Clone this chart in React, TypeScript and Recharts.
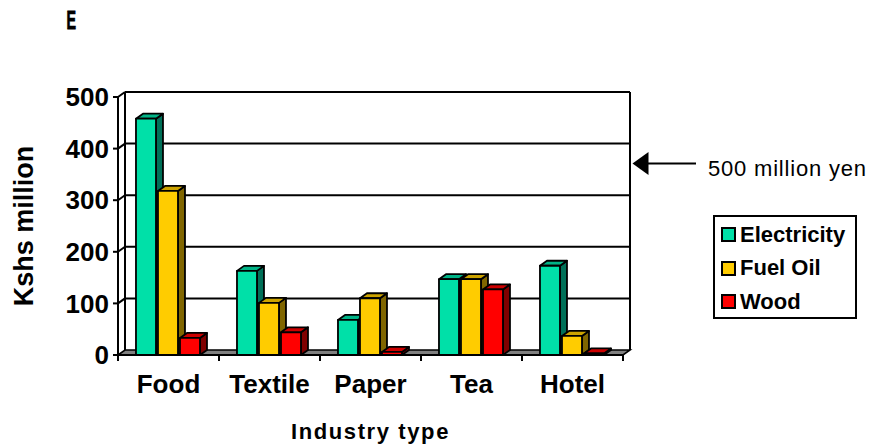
import React from "react";
import { BarChart, Bar, XAxis, YAxis, CartesianGrid, Legend, Customized } from "recharts";

// data (Kshs million)
const categories = ["Food", "Textile", "Paper", "Tea", "Hotel"];
const electricity = [458, 163, 68, 147, 173];
const fuelOil = [318, 101, 110, 147, 37];
const wood = [33, 44, 6, 127, 3];
const yTicks = [0, 100, 200, 300, 400, 500];

const seriesKeys = ["electricity", "fuelOil", "wood"];
const seriesNames = ["Electricity", "Fuel Oil", "Wood"];
const frontColors = ["#00E0A8", "#FFCC00", "#FF0000"];
const topColors = ["#00B386", "#CCA300", "#CC0000"];
const sideColors = ["#007058", "#806600", "#800000"];

const data = categories.map((name, i) => ({
  name,
  electricity: electricity[i],
  fuelOil: fuelOil[i],
  wood: wood[i],
}));

const W = 869;
const H = 445;
const MARGIN = { top: 97, right: 246, bottom: 0, left: 10 };
const Y_AXIS_W = 108;
const X_AXIS_H = 90;
// depth of the fake 3D box
const DX = 7;
const DY = 5;
const BAND_HALF = (W - MARGIN.left - Y_AXIS_W - MARGIN.right) / categories.length / 2;
const FONT = "'Liberation Sans', Arial, sans-serif";

function makeBox(front: string, top: string, side: string) {
  return (p: any) => {
    const { x, y, width, height } = p;
    if (x == null || width == null) return <g />;
    const x2 = x + width;
    const y2 = y + height;
    return (
      <g stroke="#000" strokeWidth={1.8} strokeLinejoin="round">
        <polygon points={`${x2},${y} ${x2 + DX},${y - DY} ${x2 + DX},${y2 - DY} ${x2},${y2}`} fill={side} />
        <polygon points={`${x},${y} ${x + DX},${y - DY} ${x2 + DX},${y - DY} ${x2},${y}`} fill={top} />
        <rect x={x} y={y} width={width} height={height} fill={front} />
      </g>
    );
  };
}

// back wall, left wall diagonals and floor drawn from the grid lines
function wallLine(p: any) {
  const { x1, x2, y1, y, height } = p;
  const isFloor = Math.abs(y1 - (y + height)) < 0.5;
  if (isFloor) {
    return (
      <g key={p.key} stroke="#000" strokeWidth={2}>
        <line x1={x1 + DX} y1={y - DY} x2={x1 + DX} y2={y1 - DY} />
        <line x1={x2 + DX} y1={y - DY} x2={x2 + DX} y2={y1 - DY} />
        <polygon
          points={`${x1},${y1} ${x1 + DX},${y1 - DY} ${x2 + DX},${y1 - DY} ${x2},${y1}`}
          fill="#808080"
          strokeWidth={1.6}
        />
      </g>
    );
  }
  return (
    <g key={p.key} stroke="#000" strokeWidth={2}>
      <line x1={x1} y1={y1} x2={x1 + DX} y2={y1 - DY} />
      <line x1={x1 + DX} y1={y1 - DY} x2={x2 + DX} y2={y1 - DY} />
    </g>
  );
}

function CategoryTick(p: any) {
  const { x, y, payload, index } = p;
  return (
    <g>
      {index === 0 && (
        <line x1={x - BAND_HALF} x2={x - BAND_HALF} y1={y - 6} y2={y} stroke="#000" strokeWidth={2} />
      )}
      <line x1={x + BAND_HALF} x2={x + BAND_HALF} y1={y - 6} y2={y} stroke="#000" strokeWidth={2} />
      <text x={x} y={y + 32} textAnchor="middle" fontSize={26} fontWeight={700} fill="#000">
        {payload.value}
      </text>
    </g>
  );
}

function LegendBox(p: any) {
  const items = p.payload || [];
  return (
    <div
      style={{
        border: "2px solid #000",
        background: "#fff",
        boxSizing: "border-box",
        width: 144,
        height: 104,
        paddingLeft: 6,
        paddingTop: 1,
        fontFamily: FONT,
      }}
    >
      {items.map((e: any) => (
        <div key={e.value} style={{ display: "flex", alignItems: "center", height: 33.5 }}>
          <span
            style={{
              width: 15,
              height: 15,
              boxSizing: "border-box",
              border: "2px solid #000",
              background: e.color,
              marginRight: 4,
            }}
          />
          <span style={{ fontSize: 22, fontWeight: 700, color: "#000" }}>{e.value}</span>
        </div>
      ))}
    </div>
  );
}

function Annotations() {
  return (
    <g fontFamily={FONT}>
      <text
        x={66.5}
        y={29.3}
        fontSize={25}
        fontWeight={700}
        stroke="#000"
        strokeWidth={0.9}
        textLength={9.5}
        lengthAdjust="spacingAndGlyphs"
      >
        E
      </text>
      <line x1={647} y1={163.5} x2={696} y2={163.5} stroke="#000" strokeWidth={2} />
      <polygon points="632.5,163.5 648.5,152 648.5,175" fill="#000" />
      <text x={708} y={176} fontSize={22} fill="#000" style={{ letterSpacing: "0.8px" }}>
        500 million yen
      </text>
    </g>
  );
}

export default function App() {
  return (
    <div style={{ position: "absolute", left: 0, top: 0, width: W, height: H, background: "#fff", fontFamily: FONT }}>
      <BarChart
        width={W}
        height={H}
        data={data}
        margin={MARGIN}
        barCategoryGap="17.8%"
        barGap={2}
      >
        <CartesianGrid vertical={false} horizontal={wallLine} />
        <XAxis
          dataKey="name"
          height={X_AXIS_H}
          interval={0}
          tickSize={6}
          tickMargin={0}
          tickLine={false}
          axisLine={{ stroke: "#000", strokeWidth: 2 }}
          tick={<CategoryTick />}
          label={{
            value: "Industry type",
            position: "insideBottom",
            offset: 6,
            style: { fontSize: 22, fontWeight: 700, fill: "#000", letterSpacing: "1.6px" },
          }}
        />
        <YAxis
          type="number"
          domain={[0, 500]}
          ticks={yTicks}
          interval={0}
          width={Y_AXIS_W}
          tickSize={5}
          tickMargin={4}
          axisLine={{ stroke: "#000", strokeWidth: 2 }}
          tickLine={{ stroke: "#000", strokeWidth: 2 }}
          tick={{ fontSize: 26, fontWeight: 700, fill: "#000" }}
          label={{
            value: "Kshs million",
            angle: -90,
            position: "insideLeft",
            offset: 13,
            style: { textAnchor: "middle", fontSize: 27, fontWeight: 700, fill: "#000" },
          }}
        />
        {seriesKeys.map((k, i) => (
          <Bar
            key={k}
            dataKey={k}
            name={seriesNames[i]}
            fill={frontColors[i]}
            shape={makeBox(frontColors[i], topColors[i], sideColors[i])}
            isAnimationActive={false}
          />
        ))}
        <Legend
          layout="vertical"
          align="center"
          verticalAlign="middle"
          content={<LegendBox />}
          wrapperStyle={{ left: 713, top: 215, width: 144, height: 104 }}
        />
        <Customized component={<Annotations />} />
      </BarChart>
    </div>
  );
}
